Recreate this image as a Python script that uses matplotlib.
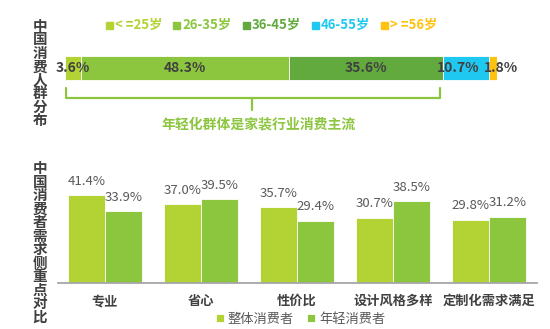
import matplotlib
matplotlib.use("Agg")
import matplotlib.pyplot as plt
from matplotlib.patches import Rectangle
import numpy as np

plt.rcParams['font.family'] = ['Noto Sans CJK SC', 'DejaVu Sans']

# --- data ---------------------------------------------------------------
age_groups = ["< =25岁", "26-35岁", "36-45岁", "46-55岁", "> =56岁"]
age_share = [3.6, 48.3, 35.6, 10.7, 1.8]
age_colors = ["#b3d234", "#8cc63f", "#62aa3e", "#1fc8f0", "#ffc20e"]

needs = ["专业", "省心", "性价比", "设计风格多样", "定制化需求满足"]
overall = [41.4, 37.0, 35.7, 30.7, 29.8]
young = [33.9, 39.5, 29.4, 38.5, 31.2]
series_names = ["整体消费者", "年轻消费者"]
series_colors = ["#b3d234", "#8cc63f"]

title_top = "中国消费人群分布"
title_bottom = "中国消费者需求侧重点对比"
summary = "年轻化群体是家装行业消费主流"

W, H = 550, 329
DARK = "#404040"
GRAY = "#595959"
GREEN = "#8cc63f"

fig = plt.figure(figsize=(W / 100, H / 100), dpi=100)
fig.patch.set_facecolor("white")
renderer = fig.canvas.get_renderer()


def px_box(x0, y0, x1, y1):
    """Axes rectangle from pixel coordinates (origin at top-left)."""
    return [x0 / W, 1 - y1 / H, (x1 - x0) / W, (y1 - y0) / H]


def fx(x):
    return x / W


def fy(y):
    return 1 - y / H


# --- vertical section titles (one stacked text each) ---------------------
def vertical_title(text, top, step=13.75, x=40):
    n = len(text)
    target = step * n
    t = fig.text(fx(x), fy(top + target / 2), "\n".join(text), ha="center",
                 va="center", fontsize=10.5, fontweight="bold", color=DARK,
                 linespacing=1.0, multialignment="center")
    # fit the line spacing so the column spans the wanted height
    ls = 1.0
    for _ in range(6):
        h = t.get_window_extent(renderer).height
        ls *= (target / h) ** 1.1
        t.set_linespacing(ls)
    return t


vertical_title(title_top, 18)
vertical_title(title_bottom, 160)

# --- top: stacked distribution bar --------------------------------------
ax1 = fig.add_axes(px_box(65, 50, 497, 130))
ax1.set_xlim(0, 100)
ax1.set_ylim(0, 1)
ax1.axis("off")

left = 0.0
label_shift = [0, 0, 0, -6, 6]
for name, val, col, sh in zip(age_groups, age_share, age_colors, label_shift):
    ax1.barh(0.775, val, left=left, height=0.3, color=col, label=name,
             edgecolor="white", linewidth=0.6)
    ax1.annotate(f"{val:.1f}%", (left + val / 2, 0.775), xytext=(sh, 0),
                 textcoords="offset points", ha="center", va="center",
                 fontsize=10, fontweight="bold", color=DARK)
    left += val

# bracket under the three younger groups
young_end = sum(age_share[:3]) - 0.7
mid = young_end / 2
ax1.plot([0.3, 0.3, young_end, young_end], [0.525, 0.4, 0.4, 0.525],
         color=GREEN, lw=1.6, solid_joinstyle="round", solid_capstyle="round")
ax1.plot([mid, mid], [0.4, 0.25], color=GREEN, lw=1.6, solid_capstyle="round")
fig.text(fx(259), fy(124), summary, ha="center", va="center",
         fontsize=10, fontweight="bold", color=GREEN)

# top legend
leg_x = [106, 173, 243, 312, 381]
for x, name, col in zip(leg_x, age_groups, age_colors):
    fig.add_artist(Rectangle((fx(x), fy(28.5)), 6.5 / W, 6.5 / H,
                             transform=fig.transFigure, color=col))
    fig.text(fx(x + 9), fy(25), name, ha="left", va="center", fontsize=9.5,
             fontweight="bold", color=col)

# --- bottom: grouped bars ------------------------------------------------
ax2 = fig.add_axes(px_box(58, 150, 537, 283))
x = np.arange(len(needs))
bw = 0.385
scale = 2.125  # pixels per percentage point
ax2.set_xlim(-0.49, 4.5)
ax2.set_ylim(0, 133 / scale)

for offs, vals, col, name in zip([-bw / 2, bw / 2], [overall, young],
                                 series_colors, series_names):
    ax2.bar(x + offs, vals, width=bw, color=col, label=name,
            edgecolor="white", linewidth=0.6)
    for xi, v in zip(x, vals):
        ax2.annotate(f"{v:.1f}%", (xi + offs, v), xytext=(0, 10),
                     textcoords="offset points", ha="center", va="center",
                     fontsize=9.5, color=GRAY)

for s in ["top", "right", "left"]:
    ax2.spines[s].set_visible(False)
ax2.spines["bottom"].set_color("#a6a6a6")
ax2.spines["bottom"].set_linewidth(1.3)
ax2.set_yticks([])
ax2.set_xticks(x)
ax2.set_xticklabels(needs, fontsize=9.5, fontweight="bold", color=DARK)
ax2.tick_params(axis="x", length=0, pad=8)

ax2.legend(loc="center left", bbox_to_anchor=(fx(216), fy(319)),
           bbox_transform=fig.transFigure, ncol=2, frameon=False,
           fontsize=9.5, labelcolor=GRAY, handlelength=0.6, handleheight=0.6,
           handletextpad=0.3, columnspacing=1.0, borderpad=0, borderaxespad=0)

fig.savefig("out.png", dpi=100, facecolor="white")
